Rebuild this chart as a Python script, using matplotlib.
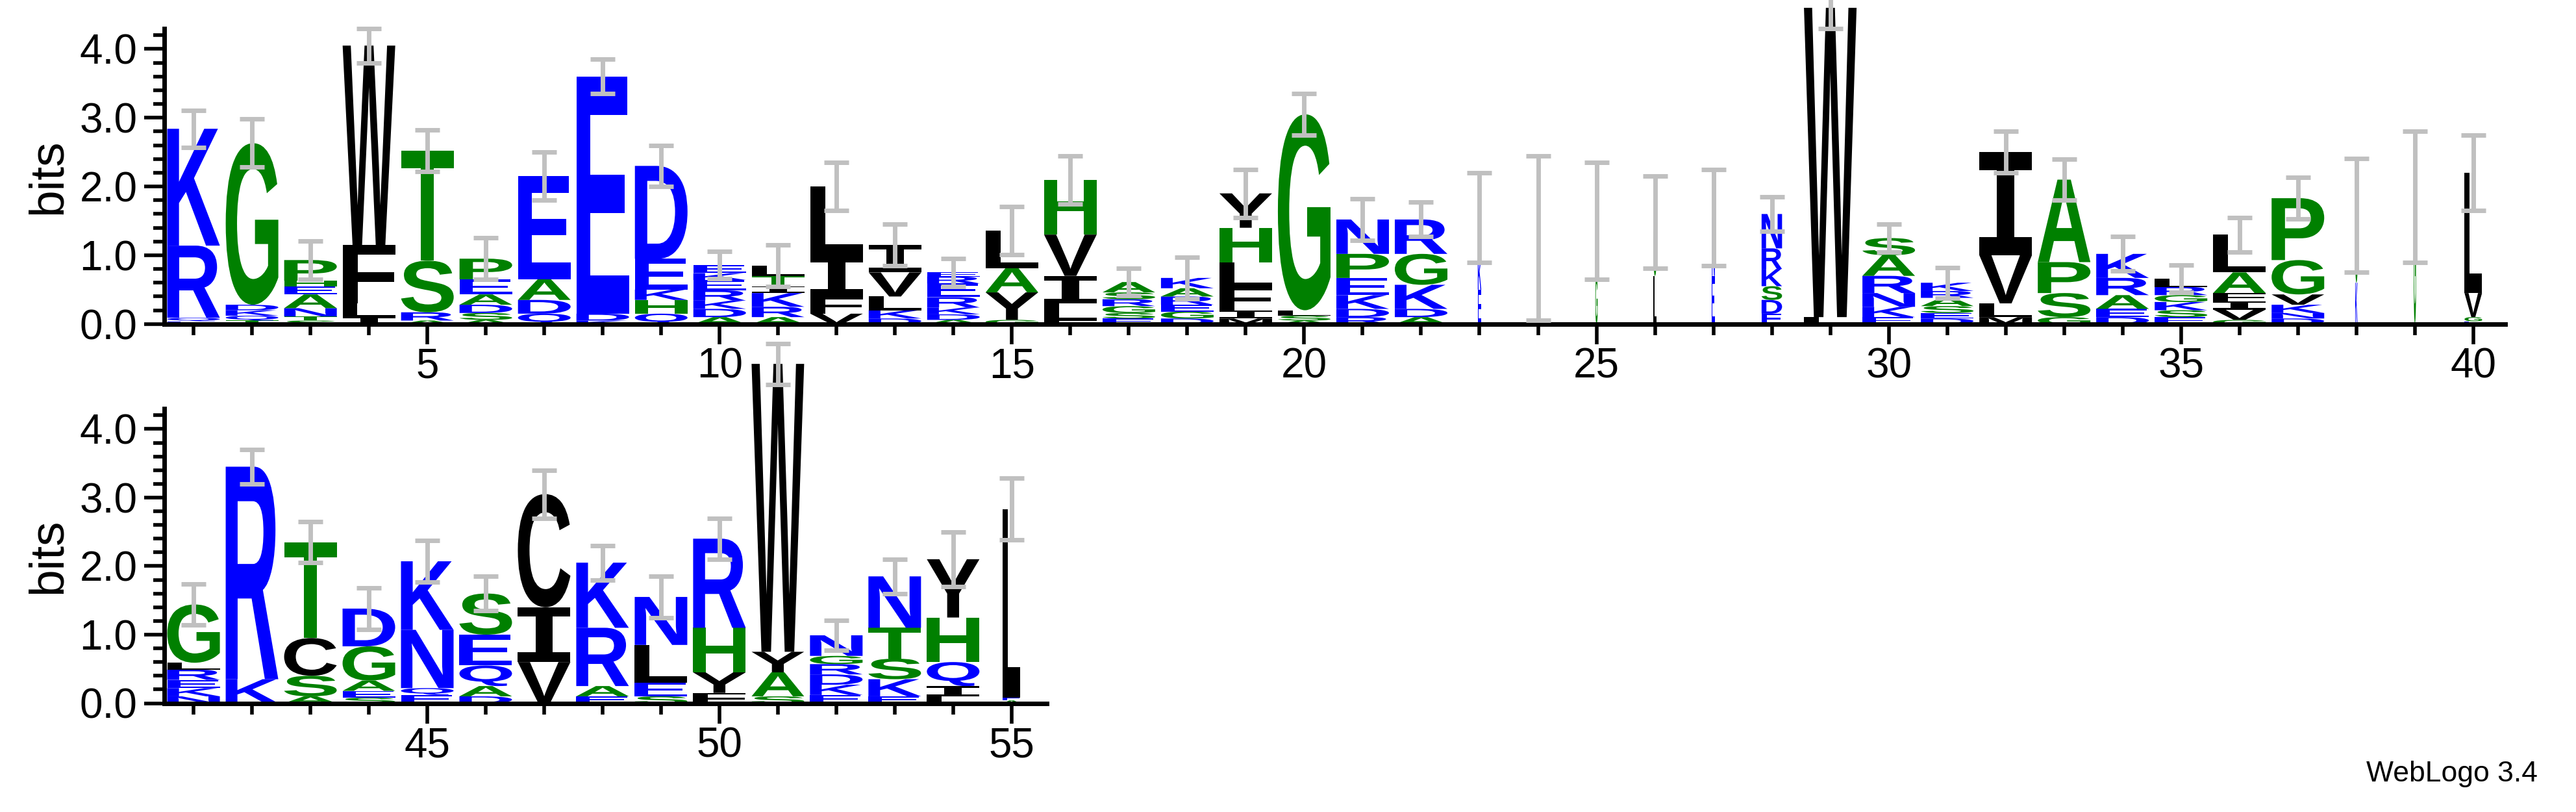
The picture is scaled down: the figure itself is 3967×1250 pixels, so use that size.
import matplotlib
matplotlib.use("Agg")
import matplotlib.pyplot as plt
from matplotlib.textpath import TextPath
from matplotlib.patches import PathPatch
from matplotlib.font_manager import FontProperties
from matplotlib.transforms import Affine2D
from matplotlib.ticker import MultipleLocator

positions = list(range(1, 56))
stacks = [
    [("E",.04),("Q",.05),("R",1.05),("K",1.7)],
    [("T",.05),("Q",.07),("K",.08),("D",.08),("G",2.35)],
    [("S",.05),("T",.06),("N",.12),("A",.2),("E",.12),("H",.08),("P",.3)],
    [("I",.1),("L",.2),("F",.85),("W",2.9)],
    [("A",.05),("R",.12),("S",.75),("T",1.6)],
    [("A",.06),("S",.1),("D",.12),("A",.15),("E",.22),("P",.3)],
    [("Q",.15),("D",.2),("A",.3),("E",1.5)],
    [("K",.05),("D",.1),("E",3.45)],
    [("Q",.15),("H",.2),("K",.15),("E",.45),("D",1.35)],
    [("A",.1),("D",.12),("K",.12),("R",.15),("E",.15),("K",.1),("E",.12)],
    [("A",.1),("R",.15),("K",.2),("I",.1),("T",.15),("L",.15)],
    [("V",.15),("F",.25),("I",.6),("L",1.0)],
    [("D",.08),("K",.12),("L",.2),("V",.35),("I",.4)],
    [("A",.06),("D",.08),("K",.1),("R",.15),("E",.2),("R",.1),("E",.06)],
    [("G",.06),("Y",.4),("A",.35),("L",.55)],
    [("F",.05),("L",.25),("I",.4),("V",.6),("H",.8)],
    [("E",.08),("S",.08),("G",.1),("R",.1),("S",.1),("A",.15)],
    [("D",.08),("G",.1),("E",.1),("R",.12),("A",.12),("K",.15)],
    [("M",.08),("I",.12),("F",.35),("L",.35),("H",.5),("Y",.5)],
    [("A",.05),("S",.07),("L",.08),("G",2.85)],
    [("R",.1),("D",.12),("K",.2),("E",.25),("P",.35),("N",.5)],
    [("A",.1),("D",.12),("K",.35),("G",.45),("R",.5)],
    [("E",.5),("K",.45),("N",.6)],
    [("E",.6),("K",.65)],
    [("G",.7),("S",.8)],
    [("L",.7),("G",.78)],
    [("E",.7),("N",.85)],
    [("E",.15),("D",.2),("S",.2),("K",.25),("R",.3),("N",.5)],
    [("L",.1),("W",4.5)],
    [("E",.1),("K",.15),("N",.2),("R",.25),("A",.3),("S",.25)],
    [("D",.08),("E",.08),("S",.1),("A",.12),("R",.1),("K",.12)],
    [("M",.1),("L",.2),("V",.7),("I",1.5)],
    [("G",.1),("S",.35),("P",.45),("A",1.2)],
    [("D",.1),("E",.12),("A",.2),("R",.25),("K",.35)],
    [("E",.1),("S",.1),("K",.12),("G",.1),("R",.12),("L",.12)],
    [("G",.06),("V",.15),("I",.12),("F",.12),("A",.3),("L",.55)],
    [("D",.08),("N",.08),("K",.12),("V",.15),("G",.5),("P",.9)],
    [("K",.6),("G",.98)],
    [("G",1.85)],
    [("E",.04),("G",.06),("V",.35),("L",1.75)],
    [("N",.1),("K",.12),("E",.12),("R",.15),("L",.1),("G",.85)],
    [("K",.35),("R",3.1)],
    [("A",.1),("S",.3),("C",.55),("T",1.4)],
    [("S",.08),("E",.1),("A",.15),("G",.5),("D",.55)],
    [("E",.12),("Q",.1),("N",.85),("K",1.0)],
    [("D",.1),("A",.15),("Q",.3),("E",.45),("S",.6)],
    [("V",.6),("I",.8),("C",1.65)],
    [("E",.1),("A",.15),("R",.85),("K",.95)],
    [("S",.1),("E",.2),("L",.55),("N",.7)],
    [("F",.15),("Y",.3),("H",.65),("R",1.3)],
    [("S",.1),("A",.35),("Y",.3),("W",4.2)],
    [("E",.12),("K",.15),("D",.15),("R",.15),("G",.12),("N",.3)],
    [("E",.1),("K",.25),("S",.3),("T",.45),("N",.75)],
    [("L",.1),("I",.15),("Q",.35),("H",.65),("Y",.85)],
    [("A",.04),("E",.04),("L",2.75)],
]
errors = [.27,.35,.28,.25,.3,.3,.35,.25,.3,.2,.3,.35,.3,.2,.35,.35,.2,.3,.35,.3,.3,.25,
          .65,1.2,.85,.67,.7,.25,.3,.2,.22,.3,.3,.25,.2,.25,.3,.83,.95,.55,
          .3,.25,.3,.3,.3,.25,.35,.25,.3,.3,.3,.22,.25,.4,.45]
widths = [0.9]*22 + [0.06,0.04,0.04,0.05,0.05,0.35,0.9,0.9,0.9,0.9,0.9,0.9,0.9,0.9,0.9,0.04,0.04,0.3] \
         + [0.9]*14 + [0.3]

colors = {}
for c in "RKDENQ": colors[c] = "#0000ff"
for c in "SGHTAP": colors[c] = "#008000"
for c in "YVMCLFIW": colors[c] = "#000000"

fp = FontProperties(family="Liberation Sans", weight="bold")
fp_i = FontProperties(family="DejaVu Sans Mono", weight="bold")

fig = plt.figure(figsize=(39.67, 12.5), dpi=100)
ax1 = fig.add_axes([0.0638, 0.601, 0.9088, 0.364])
ax2 = fig.add_axes([0.0638, 0.134, 0.3425, 0.363])

def draw_letter(ax, ch, x, y, w, h):
    tp = TextPath((0, 0), ch, size=1, prop=fp_i if ch == "I" else fp)
    bb = tp.get_extents()
    tr = Affine2D().translate(-bb.x0, -bb.y0).scale(w / bb.width, h / bb.height).translate(x - w / 2, y)
    ax.add_patch(PathPatch(tr.transform_path(tp), fc=colors[ch], ec="none", clip_on=False, zorder=2))

for ax, lo, hi, xlim in [(ax1, 1, 40, (0.5, 40.55)), (ax2, 41, 55, (40.5, 55.6))]:
    for p in range(lo, hi + 1):
        i = p - 1
        y = 0.0
        for ch, h in stacks[i]:
            draw_letter(ax, ch, p, y, widths[i], h)
            y += h
        e = errors[i]
        ax.errorbar([p], [y], yerr=[e], fmt="none", ecolor="#c0c0c0", elinewidth=5,
                    capsize=14, capthick=5, zorder=3, clip_on=False)
    ax.set_xlim(*xlim)
    ax.set_ylim(0, 4.3)
    for s in ["top", "right"]:
        ax.spines[s].set_visible(False)
    for s in ["left", "bottom"]:
        ax.spines[s].set_linewidth(5)
    ax.yaxis.set_major_locator(MultipleLocator(1.0))
    ax.yaxis.set_minor_locator(MultipleLocator(0.2))
    ax.xaxis.set_major_locator(MultipleLocator(5))
    ax.xaxis.set_minor_locator(MultipleLocator(1))
    ax.set_yticks([0, 1, 2, 3, 4])
    ax.set_yticklabels(["0.0", "1.0", "2.0", "3.0", "4.0"])
    ax.tick_params(axis="both", which="major", length=22, width=4, labelsize=46, pad=8)
    ax.tick_params(axis="x", which="major", pad=4)
    ax.tick_params(axis="both", which="minor", length=12, width=4)
    ax.set_ylabel("bits", fontsize=54, labelpad=10)
    ax.yaxis.label.set_fontfamily("Liberation Sans")

ax1.set_xticks([5, 10, 15, 20, 25, 30, 35, 40])
ax2.set_xticks([45, 50, 55])
for ax in (ax1, ax2):
    for t in ax.get_xticklabels() + ax.get_yticklabels():
        t.set_fontfamily("Liberation Sans"); t.set_fontsize(46)

fig.text(0.985, 0.03, "WebLogo 3.4", ha="right", va="bottom", fontsize=32, family="Liberation Sans")
fig.savefig("out.png", dpi=100)
